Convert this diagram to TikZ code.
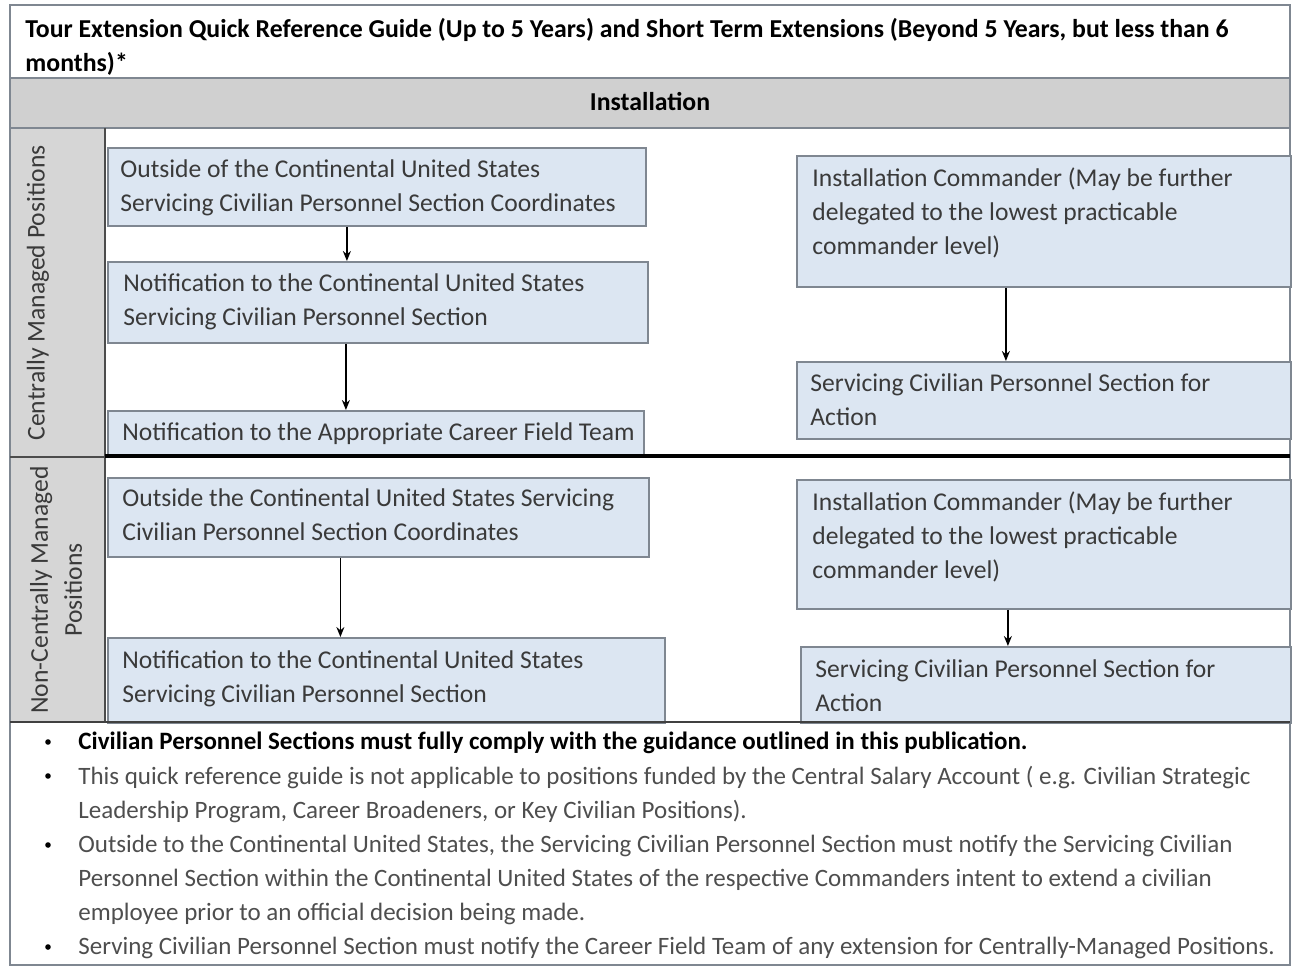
\documentclass[tikz,border=0pt]{standalone}
\usepackage{fontspec}
\setmainfont{Carlito}
\usepackage{tikz}
\usetikzlibrary{positioning,arrows.meta}
\definecolor{boxblue}{HTML}{DCE6F2}
\definecolor{boxline}{HTML}{7F8791}
\definecolor{headgray}{HTML}{D0D0D0}
\definecolor{sidegray}{HTML}{D6D6D6}
\definecolor{textgray}{HTML}{3A3A3A}
\definecolor{notegray}{HTML}{4E4E4E}

\begin{document}
\begin{tikzpicture}[x=0.5pt,y=-0.5pt,
  box/.style={draw=boxline,fill=boxblue,line width=0.9pt,anchor=north west,inner sep=0pt},
  boxtext/.style={anchor=north west,align=left,inner sep=0pt,text=textgray,font=\fontsize{12.8}{17}\selectfont},
  note/.style={anchor=north west,align=left,inner sep=0pt,text=notegray,font=\fontsize{12.5}{17}\selectfont},
  dot/.style={circle,fill=black,inner sep=0pt,minimum size=2.8pt},
  arr/.style={-{Stealth[length=5pt,width=4pt]},line width=0.7pt}]
\useasboundingbox (0,0) rectangle (1294,968);

% table frame
\fill[headgray] (10,78) rectangle (1290,128);
\fill[sidegray] (10,128) rectangle (105,457);
\fill[sidegray] (10,457) rectangle (105,722);
\draw[boxline,line width=0.8pt] (10,5) rectangle (1290,965);
\draw[boxline,line width=0.8pt] (10,78) -- (1290,78);
\draw[boxline,line width=0.8pt] (10,128) -- (1290,128);
\draw[black!70,line width=0.8pt] (105,128) -- (105,722);
\draw[black!70,line width=0.8pt] (10,457) -- (105,457);

\node[anchor=north west,align=left,inner sep=0pt,font=\fontsize{12.9}{17}\selectfont\bfseries] (title) at (25,18)
  {Tour Extension Quick Reference Guide (Up to 5 Years) and Short Term Extensions (Beyond 5 Years, but less than 6\\months)*};
\node[font=\fontsize{12.9}{17}\selectfont\bfseries] (inst) at (650,102) {Installation};

\node[rotate=90,text=textgray,font=\fontsize{12.8}{17}\selectfont] (cmp) at (38,293) {Centrally Managed Positions};
\node[rotate=90,align=center,text=textgray,font=\fontsize{12.8}{17}\selectfont] (ncmp) at (56,590) {Non-Centrally Managed\\Positions};

% centrally managed
\node[box,minimum width=269pt,minimum height=39pt] (a1) at (107,147) {};
\node[box,minimum width=270pt,minimum height=40.5pt] (a2) at (107,261) {};
\node[box,minimum width=268pt,minimum height=23pt] (a3) at (107,410) {};
\node[box,minimum width=247pt,minimum height=65.5pt] (b1) at (796,155) {};
\node[box,minimum width=247pt,minimum height=38.5pt] (b2) at (796,361) {};

\node[boxtext] (a1t) at (120,159) {Outside of the Continental United States\\Servicing Civilian Personnel Section Coordinates};
\node[boxtext] (a2t) at (123,273) {Notification to the Continental United States\\Servicing Civilian Personnel Section};
\node[boxtext] (a3t) at (122,422) {Notification to the Appropriate Career Field Team};
\node[boxtext] (b1t) at (812,167) {Installation Commander (May be further\\delegated to the lowest practicable\\commander level)};
\node[boxtext] (b2t) at (810,373) {Servicing Civilian Personnel Section for\\Action};

\draw[arr] ([xshift=-15pt]a1.south) -- ([xshift=-15pt]a1.south |- a2.north);
\draw[arr] ([xshift=-16pt]a2.south) -- ([xshift=-16pt]a2.south |- a3.north);
\draw[arr] ([xshift=-19pt]b1.south) -- ([xshift=-19pt]b1.south |- b2.north);

% non-centrally managed
\node[box,minimum width=270.5pt,minimum height=39.5pt] (c1) at (107,477) {};
\node[box,minimum width=278.5pt,minimum height=42.5pt] (c2) at (107,637) {};
\node[box,minimum width=247pt,minimum height=64.5pt] (d1) at (796,479) {};
\node[box,minimum width=245pt,minimum height=38pt] (d2) at (800,646) {};

\node[boxtext] (c1t) at (122,488) {Outside the Continental United States Servicing\\Civilian Personnel Section Coordinates};
\node[boxtext] (c2t) at (122,650) {Notification to the Continental United States\\Servicing Civilian Personnel Section};
\node[boxtext] (d1t) at (812,491) {Installation Commander (May be further\\delegated to the lowest practicable\\commander level)};
\node[boxtext] (d2t) at (815,659) {Servicing Civilian Personnel Section for\\Action};

\draw[arr] ([xshift=-19pt]c1.south) -- ([xshift=-19pt]c1.south |- c2.north);
\draw[arr] ([xshift=-18pt]d1.south) -- ([xshift=-18pt]d1.south |- d2.north);

\draw[black,line width=1.6pt] (105,456) -- (1290,456);
\draw[black!75,line width=1.2pt] (10,722) -- (1290,722);

% notes
\node[dot] (n1) at (48,742) {};
\node[dot] (n2) at (48,776) {};
\node[dot] (n3) at (48,845) {};
\node[dot] (n4) at (48,947) {};
\node[note,text=black,font=\fontsize{12.5}{17}\selectfont\bfseries] (n1t) at (78,732)
  {Civilian Personnel Sections must fully comply with the guidance outlined in this publication.};
\node[note] (n2t) at (78,766)
  {This quick reference guide is not applicable to positions funded by the Central Salary Account ( e.g. Civilian Strategic\\Leadership Program, Career Broadeners, or Key Civilian Positions).};
\node[note] (n3t) at (78,835)
  {Outside to the Continental United States, the Servicing Civilian Personnel Section must notify the Servicing Civilian\\Personnel Section within the Continental United States of the respective Commanders intent to extend a civilian\\employee prior to an official decision being made.};
\node[note] (n4t) at (78,937)
  {Serving Civilian Personnel Section must notify the Career Field Team of any extension for Centrally-Managed Positions.};
\end{tikzpicture}
\end{document}
